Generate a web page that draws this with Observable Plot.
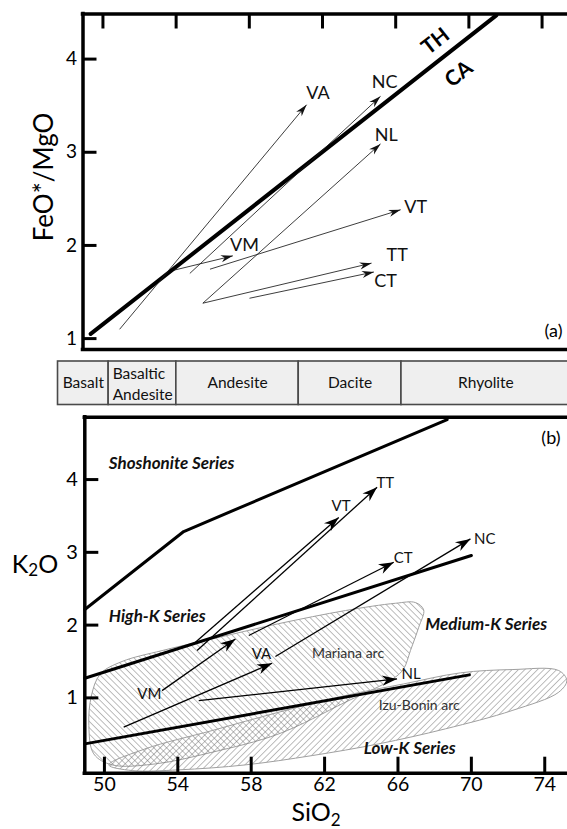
<!DOCTYPE html>
<html><head><meta charset="utf-8">
<script src="https://cdn.jsdelivr.net/npm/d3@7"></script>
<script src="https://cdn.jsdelivr.net/npm/@observablehq/plot@0.6"></script>
<style>
body{margin:0;background:#fff;}
#chart{position:relative;width:567px;height:829px;overflow:hidden;font-family:Lato,sans-serif;}
#chart svg{position:absolute;left:0;}
</style></head><body><div id="chart"></div>
<script>
// ---------- shared ticks ----------
const xTicks = [50, 54, 58, 62, 66, 70, 74];
const yTicks = [1, 2, 3, 4];

// ---------- panel (a): FeO*/MgO vs SiO2 ----------
const thcaSiO2 = [49.33, 71.5];
const thcaRatio = [1.05, 4.47];
const thcaNames = ["TH", "CA"];
const thcaLabelX = [68.18, 69.45];
const thcaLabelY = [4.19, 3.84];

const aNames  = ["VA", "NC", "NL", "TT", "CT", "VT", "VM"];
const aX1     = [50.91, 54.75, 55.46, 55.46, 58.01, 55.85, 53.88];
const aY1     = [1.10, 1.70, 1.38, 1.38, 1.433, 1.745, 1.734];
const aX2     = [61.13, 65.17, 65.17, 64.68, 64.81, 66.27, 57.10];
const aY2     = [3.51, 3.60, 3.09, 1.81, 1.715, 2.383, 1.888];
const aLabelX = [61.75, 65.39, 65.48, 66.08, 65.45, 67.09, 57.74];
const aLabelY = [3.63, 3.75, 3.18, 1.90, 1.62, 2.41, 2.0];

// ---------- rock-type band ----------
const rockNames = ["Basalt", "Basaltic\nAndesite", "Andesite", "Dacite", "Rhyolite"];
const rockFrom  = [47.47, 50.23, 53.92, 60.59, 66.19];
const rockTo    = [50.23, 53.92, 60.59, 66.19, 75.4];

// ---------- panel (b): K2O vs SiO2 ----------
const shoSiO2 = [48.93, 54.32, 68.68];
const shoK2O  = [2.214, 3.286, 4.825];
const highKSiO2 = [48.93, 70.0];
const highKK2O  = [1.27, 2.956];
const lowKSiO2 = [48.93, 69.89];
const lowKK2O  = [0.368, 1.316];

const marianaSiO2 = [49.15, 49.29, 49.78, 50.96, 53.14, 55.87, 59.50, 63.13, 65.86, 66.95, 67.40, 67.13, 66.68, 66.31, 65.77, 63.13, 59.50, 55.87, 52.78, 50.42, 49.42];
const marianaK2O  = [0.62, 1.03, 1.33, 1.50, 1.65, 1.81, 2.02, 2.20, 2.30, 2.31, 2.21, 1.97, 1.65, 1.40, 1.27, 0.94, 0.505, 0.253, 0.093, 0.079, 0.23];
const izuSiO2 = [50.24, 52.23, 55.87, 59.50, 63.13, 66.31, 69.40, 72.22, 74.76, 75.2, 74.76, 72.22, 68.58, 64.95, 61.32, 57.68, 54.05, 51.51];
const izuK2O  = [0.079, 0.30, 0.551, 0.803, 1.032, 1.192, 1.344, 1.389, 1.376, 1.238, 1.078, 0.826, 0.574, 0.368, 0.207, 0.079, 0.011, 0.001];

const bNames  = ["VT", "TT", "VM", "VA", "CT", "NC", "NL"];
const bX1     = [54.96, 55.05, 53.14, 51.05, 57.87, 59.32, 55.14];
const bY1     = [1.765, 1.65, 1.10, 0.597, 1.857, 1.568, 0.963];
const bX2     = [62.77, 64.86, 57.14, 59.14, 65.77, 69.95, 65.95];
const bY2     = [3.48, 3.895, 1.81, 1.476, 2.864, 3.185, 1.26];
const bLabelX = [62.90, 65.31, 52.45, 58.56, 66.28, 70.73, 66.71];
const bLabelY = [3.634, 3.955, 1.055, 1.605, 2.919, 3.185, 1.33];

const seriesNames = ["Shoshonite Series", "High-K Series", "Medium-K Series", "Low-K Series"];
const seriesX = [50.24, 50.24, 67.49, 64.13];
const seriesY = [4.216, 2.122, 2.008, 0.299];

const arcNames = ["Mariana arc", "Izu-Bonin arc"];
const arcX = [61.32, 64.95];
const arcY = [1.605, 0.895];

// ---------- build rows ----------
const zip = (xs, ys) => xs.map((x, i) => ({x, y: ys[i]}));
const aRows = aNames.map((name, i) => ({name, x1: aX1[i], y1: aY1[i], x2: aX2[i], y2: aY2[i], lx: aLabelX[i], ly: aLabelY[i]}));
const bRows = bNames.map((name, i) => ({name, x1: bX1[i], y1: bY1[i], x2: bX2[i], y2: bY2[i], lx: bLabelX[i], ly: bLabelY[i]}));
const thcaLabels = thcaNames.map((t, i) => ({t, x: thcaLabelX[i], y: thcaLabelY[i]}));
const rockRows = rockNames.map((name, i) => ({name, from: rockFrom[i], to: rockTo[i]}));
const seriesRows = seriesNames.map((t, i) => ({t, x: seriesX[i], y: seriesY[i]}));
const arcRows = arcNames.map((t, i) => ({t, x: arcX[i], y: arcY[i]}));

const W = 567;
const FONT = "Lato, 'Open Sans', sans-serif";
const xDomainA = [48.91, 75.39];
const yDomainA = [0.883, 4.484];
const xDomainB = [48.93, 75.24];
const yDomainB = [-0.035, 4.857];

// filled barbed arrowheads, built in pixel space through the plot's own scales
function headRows(rows, plot, L, Wd) {
  const sx = plot.scale("x"), sy = plot.scale("y");
  const out = [];
  rows.forEach((r, i) => {
    const x1 = sx.apply(r.x1), y1 = sy.apply(r.y1), x2 = sx.apply(r.x2), y2 = sy.apply(r.y2);
    const len = Math.hypot(x2 - x1, y2 - y1);
    const ux = (x2 - x1) / len, uy = (y2 - y1) / len, nx = -uy, ny = ux;
    const pts = [
      [x2, y2],
      [x2 - L * ux + Wd * nx, y2 - L * uy + Wd * ny],
      [x2 - 0.7 * L * ux, y2 - 0.7 * L * uy],
      [x2 - L * ux - Wd * nx, y2 - L * uy - Wd * ny]
    ];
    pts.forEach(([px, py]) => out.push({id: i, x: sx.invert(px), y: sy.invert(py)}));
  });
  return out;
}

const chart = document.getElementById("chart");

// ---------- panel (a) ----------
const A_H = 356, A_TOP = 13.5, A_BOT = 7, A_LEFT = 82.5;
const aInnerH = A_H - A_TOP - A_BOT, aInnerW = W - A_LEFT;
function buildA(heads) {
  return Plot.plot({
    width: W, height: A_H,
    marginTop: A_TOP, marginBottom: A_BOT, marginLeft: A_LEFT, marginRight: 0,
    x: {domain: xDomainA, axis: null},
    y: {domain: yDomainA, axis: null},
    style: {fontFamily: FONT, background: "transparent", overflow: "visible"},
    marks: [
      Plot.line(zip(thcaSiO2, thcaRatio), {x: "x", y: "y", stroke: "black", strokeWidth: 4}),
      Plot.link(aRows, {x1: "x1", y1: "y1", x2: "x2", y2: "y2", stroke: "#1a1a1a", strokeWidth: 0.85}),
      Plot.line(heads, {x: "x", y: "y", z: "id", curve: "linear-closed", fill: "#111", stroke: "none"}),
      Plot.text(aRows, {x: "lx", y: "ly", text: "name", fontSize: 18, fill: "#111"}),
      Plot.text(thcaLabels, {x: "x", y: "y", text: "t", rotate: -38, fontWeight: "bold", fontSize: 21}),
      Plot.ruleY([yDomainA[1], yDomainA[0]], {stroke: "black", strokeWidth: 3.5, strokeLinecap: "square"}),
      Plot.ruleX([xDomainA[0]], {stroke: "black", strokeWidth: 3.5, strokeLinecap: "square"}),
      Plot.tickX(xTicks, {x: d => d, insetBottom: aInnerH - 15, strokeWidth: 3}),
      Plot.tickY(yTicks, {y: d => d, insetRight: aInnerW - 14, strokeWidth: 3}),
      Plot.text(yTicks, {y: d => d, text: d => String(d), frameAnchor: "left", textAnchor: "end", dx: -6, fontSize: 19}),
      Plot.text(["(a)"], {text: d => d, frameAnchor: "bottom-right", textAnchor: "end", lineAnchor: "bottom", dx: -5, dy: -13, fontSize: 18})
    ]
  });
}
const plotA = buildA(headRows(aRows, buildA([]), 12, 3.6));
plotA.style.top = "0px";
d3.select(plotA).append("text")
  .attr("transform", "translate(43,177) rotate(-90)")
  .attr("text-anchor", "middle").attr("dominant-baseline", "central")
  .attr("font-size", 26).attr("font-family", FONT).attr("fill", "black")
  .text("FeO*/MgO");
chart.appendChild(plotA);

// ---------- rock band ----------
const plotBand = Plot.plot({
  width: W, height: 55,
  marginTop: 6, marginBottom: 5.5, marginLeft: 84.3, marginRight: 0,
  x: {domain: xDomainB, axis: null},
  y: {domain: [0, 1], axis: null},
  style: {fontFamily: FONT, background: "transparent", overflow: "visible"},
  marks: [
    Plot.rect(rockRows, {x1: "from", x2: "to", y1: 0, y2: 1, fill: "#efefef", stroke: "#4a4a4a", strokeWidth: 1.6}),
    Plot.text(rockRows.filter(d => !d.name.includes("\n")), {x: d => (d.from + d.to) / 2, y: 0.5, text: "name", fontSize: 15.5, fill: "#111"}),
    Plot.text(rockRows.filter(d => d.name.includes("\n")), {x: "from", y: 0.5, text: "name", textAnchor: "start", dx: 4, fontSize: 15.5, lineHeight: 1.35, fill: "#111"})
  ]
});
plotBand.style.top = "355px";
chart.appendChild(plotBand);

// ---------- panel (b) ----------
const B_H = 419, B_TOP = 6.7, B_BOT = 56.3, B_LEFT = 84.3;
const bInnerH = B_H - B_TOP - B_BOT, bInnerW = W - B_LEFT;
function buildB(heads) {
  return Plot.plot({
    width: W, height: B_H,
    marginTop: B_TOP, marginBottom: B_BOT, marginLeft: B_LEFT, marginRight: 0,
    x: {domain: xDomainB, axis: null},
    y: {domain: yDomainB, axis: null},
    style: {fontFamily: FONT, background: "transparent", overflow: "visible"},
    marks: [
      Plot.line(zip(marianaSiO2, marianaK2O), {x: "x", y: "y", curve: "catmull-rom-closed", fill: "url(#hatchM)", stroke: "#a0a0a0", strokeWidth: 1}),
      Plot.line(zip(izuSiO2, izuK2O), {x: "x", y: "y", curve: "catmull-rom-closed", fill: "url(#hatchI)", stroke: "#a0a0a0", strokeWidth: 1}),
      Plot.line(zip(shoSiO2, shoK2O), {x: "x", y: "y", stroke: "black", strokeWidth: 3}),
      Plot.line(zip(highKSiO2, highKK2O), {x: "x", y: "y", stroke: "black", strokeWidth: 3}),
      Plot.line(zip(lowKSiO2, lowKK2O), {x: "x", y: "y", stroke: "black", strokeWidth: 3}),
      Plot.link(bRows, {x1: "x1", y1: "y1", x2: "x2", y2: "y2", stroke: "black", strokeWidth: 1.3}),
      Plot.line(heads, {x: "x", y: "y", z: "id", curve: "linear-closed", fill: "black", stroke: "none"}),
      Plot.text(bRows, {x: "lx", y: "ly", text: "name", fontSize: 15, fill: "#111"}),
      Plot.text(seriesRows, {x: "x", y: "y", text: "t", textAnchor: "start", fontSize: 17, fontWeight: "bold", fontStyle: "italic", fill: "#111"}),
      Plot.text(arcRows, {x: "x", y: "y", text: "t", textAnchor: "start", fontSize: 14, fill: "#333"}),
      Plot.ruleY([yDomainB[1], yDomainB[0]], {stroke: "black", strokeWidth: 3.5, strokeLinecap: "square"}),
      Plot.ruleX([xDomainB[0]], {stroke: "black", strokeWidth: 3.5, strokeLinecap: "square"}),
      Plot.tickX(xTicks, {x: d => d, insetTop: bInnerH - 16, strokeWidth: 3}),
      Plot.tickY(yTicks, {y: d => d, insetRight: bInnerW - 14, strokeWidth: 3}),
      Plot.text(yTicks, {y: d => d, text: d => String(d), frameAnchor: "left", textAnchor: "end", dx: -7, fontSize: 20}),
      Plot.text(xTicks, {x: d => d, text: d => String(d), frameAnchor: "bottom", lineAnchor: "top", dy: 4, fontSize: 19.5}),
      Plot.text(["(b)"], {text: d => d, frameAnchor: "top-right", textAnchor: "end", lineAnchor: "top", dx: -7, dy: 14, fontSize: 18})
    ]
  });
}
const plotB = buildB(headRows(bRows, buildB([]), 15, 5.2));
plotB.style.top = "410px";
const defs = d3.select(plotB).insert("defs", ":first-child");
[["hatchM", -45], ["hatchI", 45]].forEach(([id, ang]) => {
  defs.append("pattern").attr("id", id).attr("patternUnits", "userSpaceOnUse")
    .attr("width", 4.5).attr("height", 4.5).attr("patternTransform", `rotate(${ang})`)
    .append("line").attr("x1", 0).attr("y1", 0).attr("x2", 0).attr("y2", 4.5)
    .attr("stroke", "#6e6e6e").attr("stroke-width", 0.9);
});
const k2o = d3.select(plotB).append("text")
  .attr("x", 35).attr("y", 153).attr("text-anchor", "middle").attr("dominant-baseline", "central")
  .attr("font-size", 25).attr("font-family", FONT).attr("fill", "black");
k2o.append("tspan").text("K");
k2o.append("tspan").attr("font-size", 17).attr("dy", 6).text("2");
k2o.append("tspan").attr("dy", -6).text("O");
const sio2 = d3.select(plotB).append("text")
  .attr("x", 316).attr("y", 411).attr("text-anchor", "middle")
  .attr("font-size", 25).attr("font-family", FONT).attr("fill", "black");
sio2.append("tspan").text("SiO");
sio2.append("tspan").attr("font-size", 17).attr("dy", 5).text("2");
chart.appendChild(plotB);
</script></body></html>
